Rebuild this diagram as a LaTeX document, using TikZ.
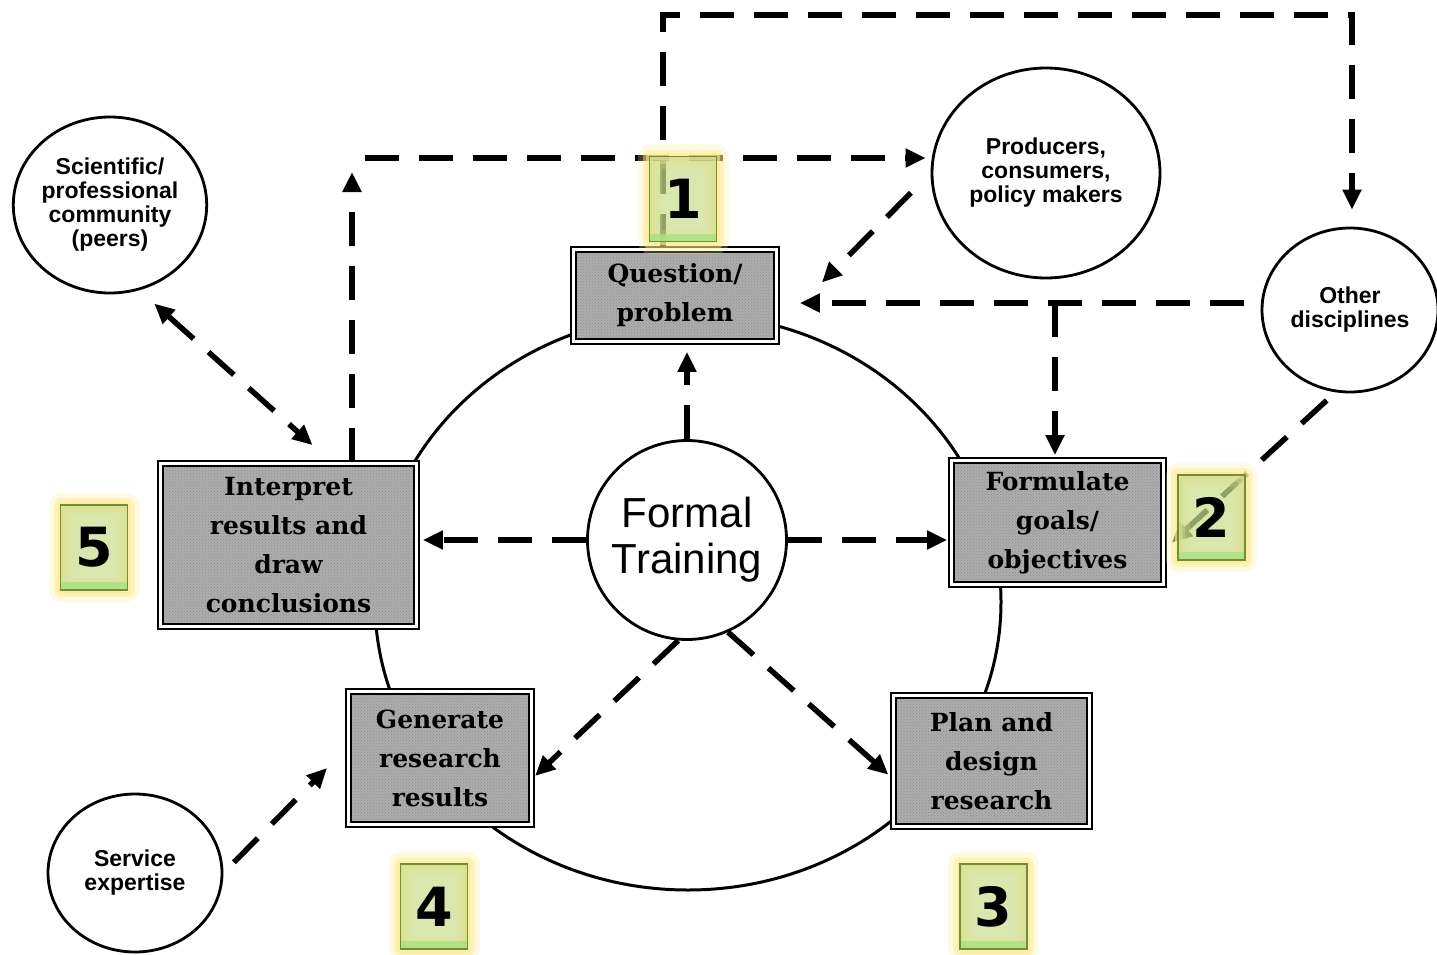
\documentclass[tikz,border=0pt]{standalone}
\usepackage{fontspec}
\setmainfont{DejaVu Serif}
\newfontfamily\circfont{Liberation Sans}
\newfontfamily\numfont{DejaVu Sans}
\usetikzlibrary{arrows.meta}
\usetikzlibrary{calc}
\usetikzlibrary{patterns}
\usetikzlibrary{shapes.geometric}

\definecolor{lbfill}{RGB}{204,222,140}
\definecolor{lbedge}{RGB}{112,140,62}
\definecolor{lbstrip}{RGB}{160,228,128}
\definecolor{lbglow}{RGB}{255,236,140}

\begin{document}
\begin{tikzpicture}[x=1pt,y=-1pt,>={Triangle[length=20pt,width=18pt]},
    stepbox/.style={rectangle,draw,line width=2.8pt,double=white,double distance=2.2pt,
      preaction={fill=black!32},preaction={pattern=crosshatch dots,pattern color=black!45},
      align=center,inner sep=0pt,font=\bfseries\fontsize{25}{39}\selectfont},
    circ/.style={ellipse,draw,line width=2.8pt,inner sep=0pt,align=center,
      font=\circfont\bfseries\fontsize{23}{24}\selectfont},
    dashline/.style={line width=5.5pt,dash pattern=on 34pt off 20pt},
    numlabel/.style={rectangle,draw=lbedge,line width=1.2pt,fill=lbfill,fill opacity=0.72,text opacity=1,
      minimum width=67pt,minimum height=85pt,inner sep=0pt,
      preaction={draw=lbglow,line width=24pt,line join=round,draw opacity=0.25},
      preaction={draw=lbglow,line width=14pt,line join=round,draw opacity=0.45},
      preaction={draw=lbglow,line width=7pt,line join=round,draw opacity=0.6},
      path picture={\fill[lbstrip] (path picture bounding box.south west) rectangle ([yshift=8pt]path picture bounding box.south east);},
      font=\numfont\bfseries\fontsize{54}{54}\selectfont}]

  \useasboundingbox [fill=white] (0,0) rectangle (1437,955);

  \draw [line width=3pt] (688,602) ellipse [x radius=313,y radius=288];

  \node [stepbox,minimum width=203pt,minimum height=92pt] (qp) at (675,295.5) {Question/\\problem};
  \node [stepbox,minimum width=256pt,minimum height=163pt] (ip) at (288.5,545) {Interpret\\results and\\draw\\conclusions};
  \node [stepbox,minimum width=212pt,minimum height=124pt] (fg) at (1057.5,522.5) {Formulate\\goals/\\objectives};
  \node [stepbox,minimum width=183pt,minimum height=133pt] (gr) at (440,758) {Generate\\research\\results};
  \node [stepbox,minimum width=196pt,minimum height=131pt] (pd) at (991.5,761) {Plan and\\design\\research};

  \node [circ,minimum width=190pt,minimum height=176pt] (sc) at (110,205) {Scientific/\\professional\\community\\(peers)};
  \node [circ,minimum width=228pt,minimum height=210pt] (pc) at (1046,173) {Producers,\\consumers,\\policy makers};
  \node [circ,minimum width=176pt,minimum height=164pt] (od) at (1350,310) {Other\\disciplines};
  \node [circ,minimum width=174pt,minimum height=158pt] (se) at (135,873) {Service\\expertise};
  \node [circle,draw,line width=2.8pt,minimum size=199pt,inner sep=0pt,align=center,
    font=\circfont\fontsize{42}{46}\selectfont] (ft) at (687,540) {Formal\\Training};

  \coordinate (topl) at (663,15);
  \coordinate (topr) at (1352,15);
  \coordinate (bend) at (352,158);
  \coordinate (split) at (1055,303);

  \draw [dashline,->,shorten >=17pt] ([xshift=-12pt]qp.north) -- (topl) -- (topr) -- (topr |- od.north);
  \draw [dashline,->,shorten >=14pt] (ip.north -| bend) -- (bend);
  \draw [dashline,->,shorten <=13pt,shorten >=5pt] (bend) -- (bend -| pc.west);
  \draw [dashline,->,shorten <=28pt] (pc.west) -- ([shift={(44pt,13pt)}]qp.east);
  \draw [dashline,->,shorten <=17pt,shorten >=22pt] (od.west |- split) -- (qp.east |- split);
  \draw [dashline,->,shorten >=4pt] (split) -- (split |- fg.north);
  \draw [dashline,->,shorten <=12pt] (od.-100) -- ([shift={(7pt,-20pt)}]fg.east);
  \draw [dashline,<->,shorten <=20pt] (sc.-71) -- ([shift={(24pt,17pt)}]ip.north);
  \draw [dashline,->,shorten <=15pt] (se.east) -- ([shift={(-20pt,-10pt)}]gr.west);

  \path [dashline,->]
    (ft.north) edge [shorten >=9pt] (ft.north |- qp.south)
    (ft.west) edge [shorten >=5pt] (ft.west -| ip.east)
    (ft.east) edge [shorten >=3pt] (ft.east -| fg.west)
    (ft.-95) edge [shorten >=3pt] ([yshift=-20pt]gr.east)
    (ft.-66) edge [shorten >=5pt] ([yshift=-17pt]pd.west);

  \node [numlabel] (n1) at (683,199) {1};
  \node [numlabel] (n2) at (1211.5,517.5) {2};
  \node [numlabel] (n3) at (993.5,906.5) {3};
  \node [numlabel] (n4) at (434,906.5) {4};
  \node [numlabel] (n5) at (94,547.5) {5};

\end{tikzpicture}
\end{document}
